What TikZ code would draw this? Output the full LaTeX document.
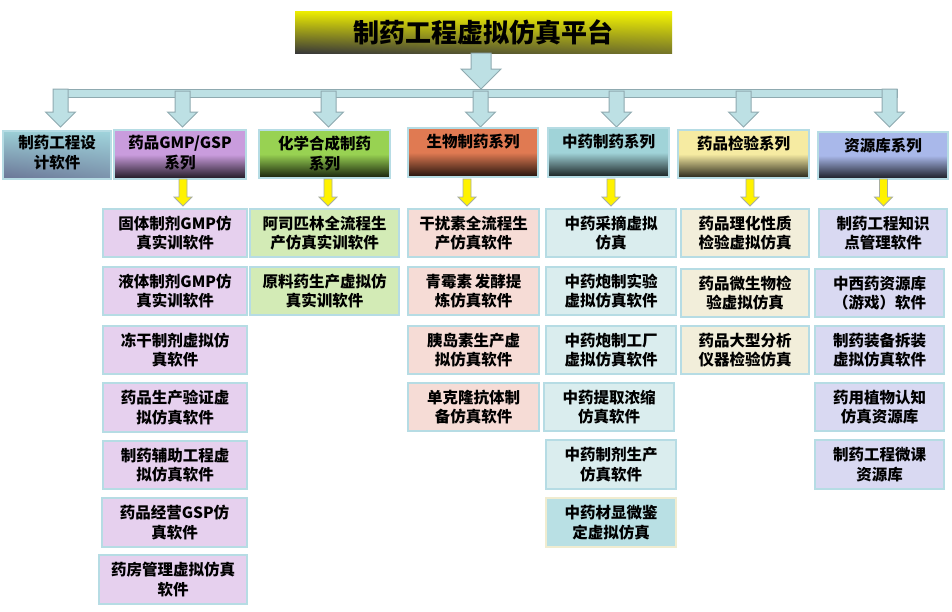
\documentclass[tikz,border=0pt]{standalone}
\usepackage{fontspec}
\setmainfont{Noto Sans CJK SC}
\usetikzlibrary{shadings}
\definecolor{arrfill}{HTML}{BDE0E4}
\definecolor{arrdraw}{HTML}{8FAAB0}
\definecolor{yarrdraw}{HTML}{A8AEA0}
\definecolor{bordc}{HTML}{B6DCE4}
\definecolor{cPur}{HTML}{C99CDD}
\definecolor{cGrn}{HTML}{98D252}
\definecolor{cOra}{HTML}{E07A52}
\definecolor{cTea}{HTML}{A0D3D8}
\definecolor{cCre}{HTML}{F6EBA2}
\definecolor{cLav}{HTML}{A9B8EA}
\definecolor{sPur}{HTML}{E6D0EE}
\definecolor{sGrn}{HTML}{D3EBB6}
\definecolor{sOra}{HTML}{F6DCD6}
\definecolor{sTea}{HTML}{DAEDEE}
\definecolor{sTeaD}{HTML}{B9E0E4}
\definecolor{sCre}{HTML}{F2EEDA}
\definecolor{sLav}{HTML}{D9D9F2}
\definecolor{yBord}{HTML}{F0ECD0}
\definecolor{tUL}{HTML}{EEEE00}
\definecolor{tUR}{HTML}{F8F800}
\definecolor{tLL}{HTML}{383838}
\definecolor{tLR}{HTML}{767628}
\definecolor{aUL}{HTML}{9CCFD6}
\definecolor{aUR}{HTML}{A0D4DC}
\definecolor{aLL}{HTML}{6A7596}
\definecolor{aLR}{HTML}{7B92AB}
\newcommand\bx[7]{\node[#6, minimum width={#4-#2}, minimum height={#5-#3}] (#1) at ({(#2+#4)/2},{(#3+#5)/2}) {#7};}
\newcommand\catbx[7]{%
  \node[catbox, top color=#6, bottom color=#6!15!black, middle color=#6, minimum width={#4-#2}, minimum height={#5-#3}] (#1) at ({(#2+#4)/2},{(#3+#5)/2}) {};
  \node[anchor=north, font=\bfseries\fontsize{15.5}{20}\selectfont] (#1t) at ([yshift=-6pt]#1.north) {#7};}
\newcommand\darrow[7]{\draw[#7] ({#1-#5},#2) -- ({#1+#5},#2) -- ({#1+#5},#3) -- ({#1+#6},#3) -- (#1,#4) -- ({#1-#6},#3) -- ({#1-#5},#3) -- cycle;}
\begin{document}
\begin{tikzpicture}[x=1pt,y=-1pt,
  every node/.style={font=\bfseries\fontsize{15.5}{19.5}\selectfont, align=center, inner sep=0pt},
  sub/.style={draw=bordc, line width=1.2pt},
  catbox/.style={draw=bordc, line width=1.2pt, shading angle=-50},
  barr/.style={fill=arrfill, draw=arrdraw, line width=1pt, line join=miter},
  yarr/.style={fill=yellow, draw=yarrdraw, line width=0.8pt, line join=miter}]
\useasboundingbox (0,0) rectangle (952,611);
\fill[white] (0,0) rectangle (952,611);
% title
\node[minimum width=377, minimum height=42, upper left=tUL, upper right=tUR, lower left=tLL, lower right=tLR, font=\bfseries\fontsize{26}{30}\selectfont] (title) at (483.5,32) {制药工程虚拟仿真平台};
% bar and arrows
\darrow{481}{53}{69}{89}{10}{20}{barr}
\draw[barr] (53,89) rectangle (897,97);
\darrow{60.5}{89}{112}{127}{7.5}{15}{barr}
\foreach \cx in {182.5,328.5,480.5,616.5,743.5}{\darrow{\cx}{91}{112}{127}{7.5}{15}{barr}}
\darrow{889.5}{89}{112}{127}{7.5}{15}{barr}
% categories
\node[draw=bordc, line width=1.2pt, upper left=aUL, upper right=aUR, lower left=aLL, lower right=aLR, minimum width=108, minimum height=48] (c1) at (57,155) {};
\node[anchor=north, font=\bfseries\fontsize{15.5}{20}\selectfont] (c1t) at ([yshift=-5pt]c1.north) {制药工程设\\计软件};
\catbx{c2}{114}{130}{246}{179}{cPur}{药品GMP/GSP\\系列}
\catbx{c3}{259}{130}{390}{178}{cGrn}{化学合成制药\\系列}
\catbx{c4}{408}{128}{538}{177}{cOra}{生物制药系列}
\catbx{c5}{548}{128}{669}{177}{cTea}{中药制药系列}
\catbx{c6}{678}{130}{809}{178}{cCre}{药品检验系列}
\catbx{c7}{818}{132}{948}{179}{cLav}{资源库系列}
% yellow arrows
\foreach \cx in {183,328,467,611,750,883.5}{\darrow{\cx}{179}{197}{206}{4}{9}{yarr}}
% column 2
\bx{g1}{103}{209}{247}{257}{sub,fill=sPur}{固体制剂GMP仿\\真实训软件}
\bx{g2}{103}{267}{247}{315}{sub,fill=sPur}{液体制剂GMP仿\\真实训软件}
\bx{g3}{103}{326}{247}{374}{sub,fill=sPur}{冻干制剂虚拟仿\\真软件}
\bx{g4}{103}{383}{247}{432}{sub,fill=sPur}{药品生产验证虚\\拟仿真软件}
\bx{g5}{103}{441}{247}{489}{sub,fill=sPur}{制药辅助工程虚\\拟仿真软件}
\bx{g6}{102}{498}{247}{547}{sub,fill=sPur}{药品经营GSP仿\\真软件}
\bx{g7}{99}{555}{247}{604}{sub,fill=sPur}{药房管理虚拟仿真\\软件}
% column 3
\bx{h1}{250}{209}{399}{257}{sub,fill=sGrn}{阿司匹林全流程生\\产仿真实训软件}
\bx{h2}{250}{267}{399}{315}{sub,fill=sGrn}{原料药生产虚拟仿\\真实训软件}
% column 4
\bx{b1}{408}{209}{539}{257}{sub,fill=sOra}{干扰素全流程生\\产仿真软件}
\bx{b2}{408}{267}{539}{315}{sub,fill=sOra}{青霉素\,发酵提\\炼仿真软件}
\bx{b3}{408}{326}{539}{374}{sub,fill=sOra}{胰岛素生产虚\\拟仿真软件}
\bx{b4}{408}{383}{539}{431}{sub,fill=sOra}{单克隆抗体制\\备仿真软件}
% column 5
\bx{z1}{546}{209}{676}{257}{sub,fill=sTea}{中药采摘虚拟\\仿真}
\bx{z2}{546}{267}{676}{315}{sub,fill=sTea}{中药炮制实验\\虚拟仿真软件}
\bx{z3}{546}{326}{676}{374}{sub,fill=sTea}{中药炮制工厂\\虚拟仿真软件}
\bx{z4}{544}{383}{674}{431}{sub,fill=sTea}{中药提取浓缩\\仿真软件}
\bx{z5}{546}{440}{676}{489}{sub,fill=sTea}{中药制剂生产\\仿真软件}
\bx{z6}{546}{498}{676}{547}{sub,draw=yBord,fill=sTeaD}{中药材显微鉴\\定虚拟仿真}
% column 6
\bx{j1}{681}{209}{809}{257}{sub,fill=sCre}{药品理化性质\\检验虚拟仿真}
\bx{j2}{681}{269}{809}{317}{sub,fill=sCre}{药品微生物检\\验虚拟仿真}
\bx{j3}{681}{326}{809}{374}{sub,fill=sCre}{药品大型分析\\仪器检验仿真}
% column 7
\bx{r1}{819}{209}{947}{257}{sub,fill=sLav}{制药工程知识\\点管理软件}
\bx{r2}{815}{269}{944}{317}{sub,fill=sLav}{中西药资源库\\（游戏）软件}
\bx{r3}{815}{326}{944}{374}{sub,fill=sLav}{制药装备拆装\\虚拟仿真软件}
\bx{r4}{815}{383}{944}{431}{sub,fill=sLav}{药用植物认知\\仿真资源库}
\bx{r5}{815}{440}{944}{489}{sub,fill=sLav}{制药工程微课\\资源库}
\end{tikzpicture}
\end{document}
